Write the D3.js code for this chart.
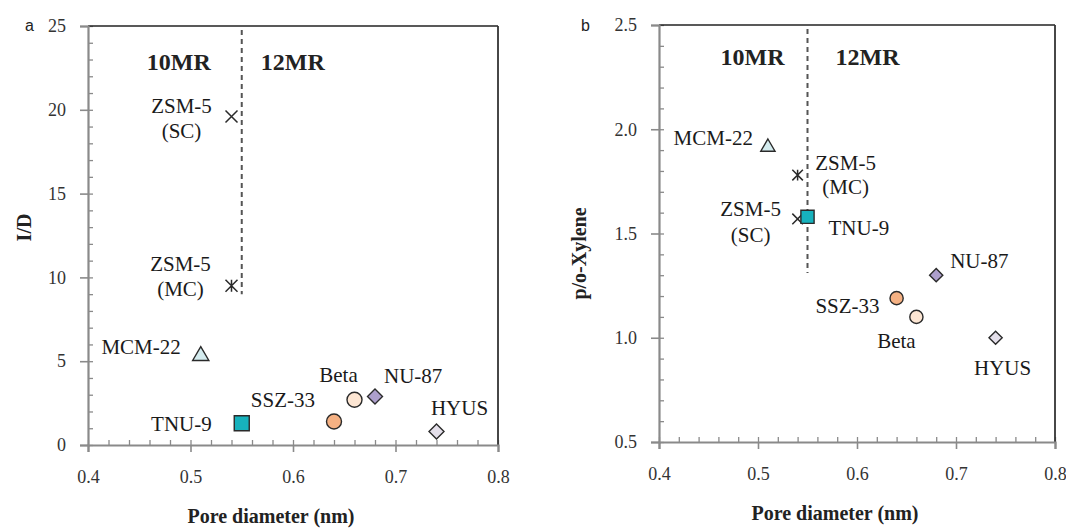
<!DOCTYPE html>
<html>
<head>
<meta charset="utf-8">
<script src="https://cdn.jsdelivr.net/npm/d3@7"></script>
<style>
  body { margin: 0; background: #fff; }
  svg { display: block; }
  .serif { font-family: "Liberation Serif", "Times New Roman", serif; }
</style>
</head>
<body>
<svg id="chart" width="1066" height="529"></svg>
<script>
// zeolite data
const zeolites = ["ZSM-5 (SC)", "ZSM-5 (MC)", "MCM-22", "TNU-9", "SSZ-33", "Beta", "NU-87", "HYUS"];
const poreDiameter = [0.54, 0.54, 0.51, 0.55, 0.64, 0.66, 0.68, 0.74];
const idRatio = [19.6, 9.5, 5.4, 1.3, 1.4, 2.7, 2.9, 0.8];
const pxRatio = [1.57, 1.78, 1.92, 1.58, 1.19, 1.10, 1.30, 1.00];

const xTicks = [0.4, 0.5, 0.6, 0.7, 0.8];
const idTicks = [0, 5, 10, 15, 20, 25];
const pxTicks = [0.5, 1.0, 1.5, 2.0, 2.5];

// 10MR / 12MR boundary
const ringDivider = 0.55;
const dividerEndA = 9.0;
const dividerEndB = 1.31;

// marker look per zeolite
const markerStyle = {
  "ZSM-5 (SC)": { shape: "times", fill: "none" },
  "ZSM-5 (MC)": { shape: "asterisk", fill: "none" },
  "MCM-22": { shape: "triangle", fill: "#d4ecef" },
  "TNU-9": { shape: "square", fill: "#17b2bd" },
  "SSZ-33": { shape: "circle", fill: "#f5b183" },
  "Beta": { shape: "circle", fill: "#fde6d3" },
  "NU-87": { shape: "diamond", fill: "#ad9fcc" },
  "HYUS": { shape: "diamond", fill: "#e4dfea" }
};

const shapes = {
  times: { draw(c, r) { c.moveTo(-r, -r); c.lineTo(r, r); c.moveTo(r, -r); c.lineTo(-r, r); } },
  asterisk: { draw(c, r) { c.moveTo(-r, -r); c.lineTo(r, r); c.moveTo(r, -r); c.lineTo(-r, r); c.moveTo(0, -r); c.lineTo(0, r); } },
  square: { draw(c, r) { c.rect(-r, -r, 2 * r, 2 * r); } },
  circle: { draw(c, r) { c.moveTo(r, 0); c.arc(0, 0, r, 0, 2 * Math.PI); } },
  triangle: { draw(c, r) { c.moveTo(0, -r * 1.05); c.lineTo(r * 1.08, r * 0.8); c.lineTo(-r * 1.08, r * 0.8); c.closePath(); } },
  diamond: { draw(c, r) { c.moveTo(0, -r); c.lineTo(r, 0); c.lineTo(0, r); c.lineTo(-r, 0); c.closePath(); } }
};
const shapeRadius = { times: 6, asterisk: 6, square: 7.5, circle: 7.5, triangle: 7.5, diamond: 7.5 };

const svg = d3.select("#chart");

function drawPanel(p) {
  const x = d3.scaleLinear().domain([0.4, 0.8]).range([p.left, p.right]);
  const y = d3.scaleLinear().domain(p.yDomain).range([p.bottom, p.top]);
  const g = svg.append("g");

  // minor ticks (inside)
  g.append("g")
    .attr("transform", `translate(0,${p.bottom})`)
    .call(d3.axisBottom(x).tickValues(d3.range(0.4, 0.8001, 0.02)).tickSize(-5).tickFormat(""))
    .call(a => a.select(".domain").remove())
    .call(a => a.selectAll("line").attr("stroke", "#8a8a8a").attr("stroke-width", 1.3));
  g.append("g")
    .attr("transform", `translate(${p.left},0)`)
    .call(d3.axisLeft(y).tickValues(d3.range(p.yDomain[0], p.yDomain[1] + 1e-6, p.yMinor)).tickSize(-5).tickFormat(""))
    .call(a => a.select(".domain").remove())
    .call(a => a.selectAll("line").attr("stroke", "#8a8a8a").attr("stroke-width", 1.3));

  // frame top / right
  g.append("line").attr("x1", p.left).attr("x2", p.right).attr("y1", p.top).attr("y2", p.top)
    .attr("stroke", "#222").attr("stroke-width", 1.6);
  g.append("line").attr("x1", p.right).attr("x2", p.right).attr("y1", p.top).attr("y2", p.bottom)
    .attr("stroke", "#333").attr("stroke-width", 1.8);

  // major axes
  const xAxis = g.append("g")
    .attr("transform", `translate(0,${p.bottom})`)
    .call(d3.axisBottom(x).tickValues(xTicks).tickSize(7).tickPadding(18).tickFormat(d3.format(".1f")));
  const yAxis = g.append("g")
    .attr("transform", `translate(${p.left},0)`)
    .call(d3.axisLeft(y).tickValues(p.yTicks).tickSize(8).tickPadding(14).tickFormat(p.yFormat));
  [xAxis, yAxis].forEach(a => {
    a.attr("font-family", null);
    a.select(".domain").attr("stroke", "#8a8a8a").attr("stroke-width", 2.2);
    a.selectAll(".tick line").attr("stroke", "#8a8a8a").attr("stroke-width", 1.6);
    a.selectAll(".tick text").attr("class", "serif").attr("font-size", 18).attr("fill", "#333");
  });

  // divider
  g.append("line")
    .attr("x1", x(ringDivider)).attr("x2", x(ringDivider))
    .attr("y1", y(p.yDomain[1]) + 4).attr("y2", y(p.dividerEnd))
    .attr("stroke", "#555").attr("stroke-width", 2).attr("stroke-dasharray", "5,4");

  g.append("text").text("10MR")
    .attr("class", "serif")
    .attr("x", x(ringDivider) + p.mr[0]).attr("y", p.mrY)
    .attr("text-anchor", "end").attr("font-weight", "bold")
    .attr("font-size", 24).attr("fill", "#222");
  g.append("text").text("12MR")
    .attr("class", "serif")
    .attr("x", x(ringDivider) + p.mr[1]).attr("y", p.mrY)
    .attr("font-weight", "bold")
    .attr("font-size", 24).attr("fill", "#222");

  // markers
  g.selectAll(".pt")
    .data(zeolites)
    .enter()
    .append("path")
    .attr("class", "pt")
    .attr("transform", (d, i) => `translate(${x(poreDiameter[i])},${y(p.values[i])})`)
    .attr("d", d => {
      const s = markerStyle[d].shape;
      return d3.symbol().type(shapes[s]).size(shapeRadius[s] * p.markerScale)();
    })
    .attr("fill", d => markerStyle[d].fill)
    .attr("stroke", "#2a2a2a")
    .attr("stroke-width", d => markerStyle[d].fill === "none" ? 1.5 : 1.4);

  // point labels
  zeolites.forEach((name, i) => {
    const o = p.labels[name];
    const lines = name.startsWith("ZSM") ? ["ZSM-5", name.slice(6)] : [name];
    const t = g.append("text")
      .attr("class", "serif")
      .attr("font-size", 21).attr("fill", "#1a1a1a")
      .attr("text-anchor", o.anchor);
    lines.forEach((ln, k) => {
      t.append("tspan")
        .attr("x", x(poreDiameter[i]) + o.dx)
        .attr("y", y(p.values[i]) + o.dy[k])
        .text(ln);
    });
  });

  // titles
  g.append("text").text("Pore diameter (nm)")
    .attr("class", "serif")
    .attr("x", (p.left + p.right) / 2 - 22).attr("y", p.xTitleY)
    .attr("text-anchor", "middle").attr("font-weight", "bold")
    .attr("font-size", 20).attr("fill", "#222");
  g.append("text").text(p.yTitle)
    .attr("class", "serif")
    .attr("transform", `translate(${p.yTitleX},${(p.top + p.bottom) / 2 + p.yTitleShift}) rotate(-90)`)
    .attr("text-anchor", "middle").attr("font-weight", "bold")
    .attr("font-size", 20).attr("fill", "#222");
  g.append("text").text(p.letter)
    .attr("x", p.letterX).attr("y", 31)
    .attr("font-family", "'Liberation Sans', Arial, sans-serif").attr("font-size", 16).attr("fill", "#222");
}

drawPanel({
  left: 88, right: 498, top: 26, bottom: 445,
  yDomain: [0, 25], yTicks: idTicks, yMinor: 1, yFormat: d3.format("d"),
  values: idRatio, dividerEnd: dividerEndA,
  mr: [-31, 19], mrY: 70, markerScale: 1,
  yTitle: "I/D", yTitleX: 31, yTitleShift: -8, xTitleY: 523,
  letter: "a", letterX: 25,
  labels: {
    "ZSM-5 (SC)": { dx: -50, dy: [-4, 21], anchor: "middle" },
    "ZSM-5 (MC)": { dx: -51, dy: [-14.5, 10], anchor: "middle" },
    "MCM-22": { dx: -20, dy: [0], anchor: "end" },
    "TNU-9": { dx: -30, dy: [7.5], anchor: "end" },
    "SSZ-33": { dx: -19, dy: [-15], anchor: "end" },
    "Beta": { dx: -16, dy: [-17.5], anchor: "middle" },
    "NU-87": { dx: 9, dy: [-13], anchor: "start" },
    "HYUS": { dx: 23, dy: [-16.5], anchor: "middle" }
  }
});

drawPanel({
  left: 659, right: 1055, top: 25, bottom: 442,
  yDomain: [0.5, 2.5], yTicks: pxTicks, yMinor: 0.1, yFormat: d3.format(".1f"),
  values: pxRatio, dividerEnd: dividerEndB,
  mr: [-23, 28], mrY: 65, markerScale: 0.88,
  yTitle: "p/o-Xylene", yTitleX: 586, yTitleShift: 20, xTitleY: 520,
  letter: "b", letterX: 581,
  labels: {
    "ZSM-5 (SC)": { dx: -47, dy: [-2.5, 23], anchor: "middle" },
    "ZSM-5 (MC)": { dx: 48, dy: [-5.5, 18.5], anchor: "middle" },
    "MCM-22": { dx: -15, dy: [-1], anchor: "end" },
    "TNU-9": { dx: 21, dy: [18], anchor: "start" },
    "SSZ-33": { dx: -17, dy: [15], anchor: "end" },
    "Beta": { dx: -20, dy: [31], anchor: "middle" },
    "NU-87": { dx: 14, dy: [-7], anchor: "start" },
    "HYUS": { dx: 7, dy: [37], anchor: "middle" }
  }
});
</script>
</body>
</html>
